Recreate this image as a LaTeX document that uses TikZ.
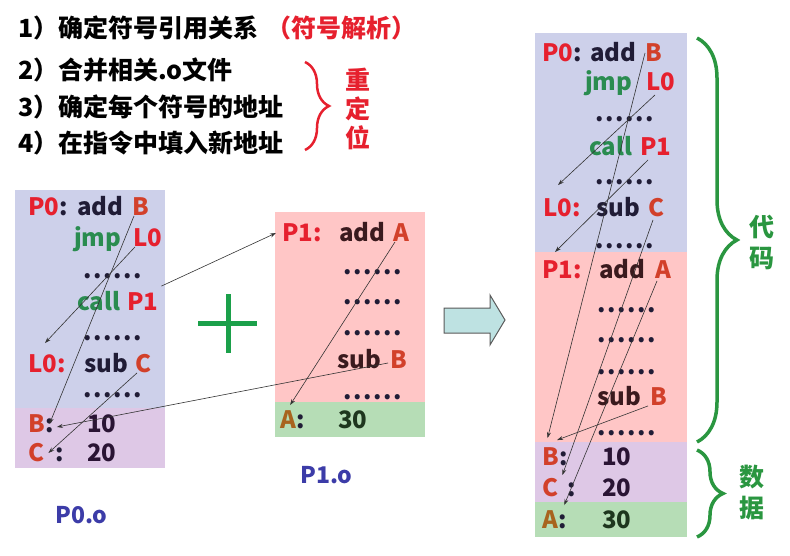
\documentclass[tikz,border=0pt]{standalone}
\usepackage{fontspec}
\setmainfont{Noto Sans CJK SC}
\newfontfamily\cjk{Noto Sans CJK SC}
\usetikzlibrary{positioning,decorations.pathreplacing,arrows.meta}

\definecolor{codebg}{HTML}{CDD0EA}
\definecolor{p1bg}{HTML}{FFC6C6}
\definecolor{databg}{HTML}{DEC8E6}
\definecolor{abg}{HTML}{B6DDB6}
\definecolor{lblred}{HTML}{E6202E}
\definecolor{symred}{HTML}{D2402A}
\definecolor{insgreen}{HTML}{2A8C50}
\definecolor{opdark}{HTML}{201C36}
\definecolor{p1dark}{HTML}{3A1A1E}
\definecolor{valdark}{HTML}{2A1434}
\definecolor{abrown}{HTML}{A8641E}
\definecolor{agreen}{HTML}{1E361E}
\definecolor{fileblue}{HTML}{3C3CA8}
\definecolor{bracegreen}{HTML}{2A9640}
\definecolor{plusgreen}{HTML}{1BA04A}
\definecolor{arrowfill}{HTML}{BEE2E2}

\newcommand{\gapdots}{.\kern1.6pt.\kern1.6pt.\kern1.6pt.\kern1.6pt.\kern1.6pt.}

\tikzset{
  tok/.style={inner sep=0pt, anchor=west, font=\cjk\fontsize{24}{24}\selectfont\bfseries,
    text height=17.5pt, text depth=0pt},
  lbltok/.style={tok, text=lblred},
  symtok/.style={tok, text=symred},
  optok/.style={tok, text=opdark},
  instok/.style={tok, text=insgreen},
  valtok/.style={tok, text=valdark},
  dottok/.style={tok, text=opdark, text height=4pt},
  filetok/.style={tok, text=fileblue, font=\cjk\fontsize{23}{23}\selectfont\bfseries},
  headtxt/.style={inner sep=0pt, anchor=west, font=\cjk\fontsize{25}{25}\selectfont\bfseries,
    text height=19pt, text depth=0pt},
  ref/.style={-{Stealth[length=6pt,width=4pt]}, line width=0.6pt, black!80},
  cbrace/.style={decorate, decoration={brace, amplitude=#1}},
}

\begin{document}
\begin{tikzpicture}[x=1pt, y=-1pt]
  \useasboundingbox (0,0) rectangle (790,556);

  % steps
  \node[headtxt] (step1) at (18,28) {1）确定符号引用关系};
  \node[headtxt, text=lblred] (step1r) at (266,28) {（符号解析）};
  \node[headtxt] (step2) at (18,70) {2）合并相关.o文件};
  \node[headtxt] (step3) at (18,107) {3）确定每个符号的地址};
  \node[headtxt] (step4) at (18,143) {4）在指令中填入新地址};
  \draw[cbrace=24, lblred, line width=2.5pt] (305,62) -- (305,150);
  \foreach \ch [count=\i] in {重,定,位}
    \node[headtxt, anchor=center, text=lblred] (reloc\i) at (358,51+29*\i) {\ch};

  % P0.o
  \fill[codebg] (15,190) rectangle (165,408);
  \fill[databg] (15,408) rectangle (165,468);
  \node[lbltok] (aP0) at (28,207) {P0};
  \node[optok, right=0pt of aP0] (aP0c) {:};
  \node[optok] (aAdd) at (77,207) {add};
  \node[symtok] (aAddB) at (132,207) {B};
  \node[instok] (aJmp) at (74,238) {jmp};
  \node[lbltok] (aJmpL0) at (133,238) {L0};
  \node[dottok] (aD1) at (83,277) {\gapdots};
  \node[instok] (aCall) at (77,302) {call};
  \node[lbltok] (aCallP1) at (127,302) {P1};
  \node[dottok] (aD2) at (83,338) {\gapdots};
  \node[lbltok] (aL0) at (28,364) {L0:};
  \node[optok] (aSub) at (84,364) {sub};
  \node[symtok] (aSubC) at (135,364) {C};
  \node[dottok] (aD3) at (83,395) {\gapdots};
  \node[symtok] (aB) at (28,424) {B};
  \node[optok, right=0pt of aB] (aBc) {:};
  \node[valtok] (aBv) at (87,424) {10};
  \node[symtok] (aC) at (28,453) {C};
  \node[optok] (aCc) at (55,453) {:};
  \node[valtok] (aCv) at (87,453) {20};
  \node[filetok] (aName) at (55,515) {P0.o};

  % plus
  \draw[plusgreen, line width=5pt] (198,323) -- (257,323) (228,294) -- (228,353);

  % P1.o
  \fill[p1bg] (275,212) rectangle (425,402);
  \fill[abg] (275,402) rectangle (425,437);
  \node[lbltok] (bP1) at (282,233) {P1:};
  \node[tok, text=p1dark] (bAdd) at (339,233) {add};
  \node[symtok] (bAddA) at (393,233) {A};
  \node[dottok] (bD1) at (343,272) {\gapdots};
  \node[dottok] (bD2) at (343,302) {\gapdots};
  \node[dottok] (bD3) at (343,333) {\gapdots};
  \node[tok, text=p1dark] (bSub) at (337,360) {sub};
  \node[symtok] (bSubB) at (390,360) {B};
  \node[dottok] (bD4) at (343,397) {\gapdots};
  \node[tok, text=abrown] (bA) at (280,420) {A};
  \node[optok, right=0pt of bA] (bAc) {:};
  \node[tok, text=agreen] (bAv) at (338,420) {30};
  \node[filetok] (bName) at (300,475) {P1.o};

  % links inside P0.o and P1.o
  \draw[ref] ([xshift=2pt]aAddB.south west) -- (aBc.center);
  \draw[ref] ([xshift=2pt]aJmpL0.south west) -- ([xshift=17pt,yshift=12pt]aL0.north west);
  \draw[ref] ([xshift=2pt]aSubC.south west) -- ([xshift=4pt]aC.east);
  \draw[ref] ([xshift=3pt,yshift=7pt]aCallP1.north east) -- ([xshift=-6pt]bP1.west);
  \draw[ref] ([xshift=-2pt,yshift=-3pt]bSubB.west) -- ([xshift=3pt,yshift=-3pt]aBc.east);
  \draw[ref] ([xshift=2pt]bAddA.south west) -- ([xshift=2pt,yshift=6pt]bA.north);

  % block arrow
  \draw[gray!70!black, fill=arrowfill, line width=1pt]
    (444,308) -- (490,308) -- (490,295) -- (505,320) -- (490,345) -- (490,333) -- (444,333) -- cycle;

  % linked file
  \fill[codebg] (535,33) rectangle (687,252);
  \fill[p1bg] (535,252) rectangle (687,442);
  \fill[databg] (535,442) rectangle (687,502);
  \fill[abg] (535,502) rectangle (687,537);
  \node[lbltok] (cP0) at (542,53) {P0};
  \node[optok, right=0pt of cP0] (cP0c) {:};
  \node[optok] (cAdd) at (590,53) {add};
  \node[symtok] (cAddB) at (645,53) {B};
  \node[instok] (cJmp) at (585,82) {jmp};
  \node[lbltok] (cJmpL0) at (646,82) {L0};
  \node[dottok] (cD1) at (595,120) {\gapdots};
  \node[instok] (cCall) at (589,147) {call};
  \node[lbltok] (cCallP1) at (640,147) {P1};
  \node[dottok] (cD2) at (595,183) {\gapdots};
  \node[lbltok] (cL0) at (543,208) {L0:};
  \node[optok] (cSub) at (596,208) {sub};
  \node[symtok] (cSubC) at (648,208) {C};
  \node[dottok] (cD3) at (595,247) {\gapdots};
  \node[lbltok] (cP1) at (542,270) {P1:};
  \node[tok, text=p1dark] (cAdd2) at (599,270) {add};
  \node[symtok] (cAddA) at (655,270) {A};
  \node[dottok] (cD4) at (597,310) {\gapdots};
  \node[dottok] (cD5) at (597,340) {\gapdots};
  \node[dottok] (cD6) at (597,372) {\gapdots};
  \node[tok, text=p1dark] (cSub2) at (597,397) {sub};
  \node[symtok] (cSubB) at (650,397) {B};
  \node[dottok] (cD7) at (597,433) {\gapdots};
  \node[symtok] (cB) at (542,457) {B};
  \node[optok, right=0pt of cB] (cBc) {:};
  \node[valtok] (cBv) at (602,457) {10};
  \node[symtok] (cC) at (542,488) {C};
  \node[optok] (cCc) at (567,488) {:};
  \node[valtok] (cCv) at (602,488) {20};
  \node[tok, text=abrown] (cA) at (542,520) {A};
  \node[optok, right=0pt of cA] (cAc) {:};
  \node[tok, text=agreen] (cAv) at (602,520) {30};

  % links inside the linked file
  \draw[ref] (cAddB.west) -- ([xshift=-3pt,yshift=10pt]cB.north);
  \draw[ref] ([xshift=9pt,yshift=-4pt]cJmpL0.south west) -- ([xshift=15pt,yshift=14pt]cL0.north west);
  \draw[ref] ([xshift=8pt,yshift=-4pt]cCallP1.south west) -- ([xshift=13pt,yshift=9pt]cP1.north west);
  \draw[ref] ([xshift=5pt,yshift=-3pt]cSubC.south west) -- ([xshift=4pt,yshift=13pt]cC.east);
  \draw[ref] ([xshift=2pt,yshift=-2pt]cAddA.south west) -- ([xshift=6pt,yshift=6pt]cA.north east);
  \draw[ref] ([xshift=-2pt]cSubB.south west) -- ([xshift=-2pt,yshift=8pt]cB.north east);

  % sections
  \draw[cbrace=40, bracegreen, line width=3.5pt] (697,38) -- (697,442);
  \draw[cbrace=26, bracegreen, line width=3.5pt] (697,450) -- (697,537);
  \node[headtxt, anchor=center, text=bracegreen] (code1) at (762,227) {代};
  \node[headtxt, anchor=center, text=bracegreen] (code2) at (762,258) {码};
  \node[headtxt, anchor=center, text=bracegreen] (data1) at (752,477) {数};
  \node[headtxt, anchor=center, text=bracegreen] (data2) at (752,508) {据};
\end{tikzpicture}
\end{document}
